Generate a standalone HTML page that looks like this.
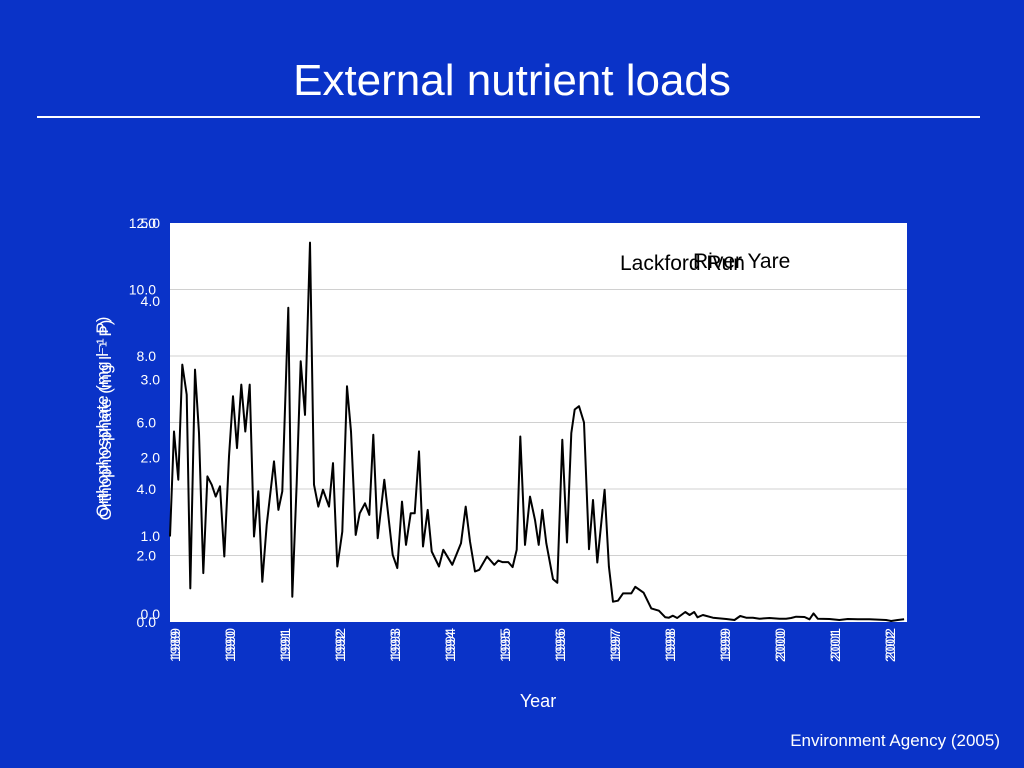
<!DOCTYPE html>
<html><head><meta charset="utf-8"><style>
body{margin:0;background:#0a33c8;}
svg{display:block;font-family:"Liberation Sans",sans-serif;}
</style></head><body>
<svg id="chart" width="1024" height="768" viewBox="0 0 1024 768">
<rect x="0" y="0" width="1024" height="768" fill="#0a33c8"/>
<text x="512" y="95" font-size="44" fill="#fff" text-anchor="middle">External nutrient loads</text>
<line x1="37" y1="117" x2="980" y2="117" stroke="#fff" stroke-width="2"/>
<rect x="170" y="223" width="737" height="399" fill="#fff"/>
<g id="grid"></g>
<g id="yticks"></g>
<g id="xticks"></g>
<path id="line" fill="none" stroke="#000" stroke-width="2" stroke-linejoin="round"/>
<text x="620" y="270" font-size="21" fill="#000">Lackford Run</text>
<text x="693" y="268" font-size="21" fill="#000">River Yare</text>
<text transform="translate(111,420) rotate(-90)" font-size="17" fill="#fff" text-anchor="middle">Orthophosphate (mg l⁻¹ P)</text>
<text transform="translate(108,417) rotate(-90)" font-size="17" fill="#fff" text-anchor="middle">Orthophosphate (mg l⁻¹ P)</text>
<text x="538" y="707" font-size="18" fill="#fff" text-anchor="middle">Year</text>
<text x="1000" y="746" font-size="17" fill="#fff" text-anchor="end">Environment Agency (2005)</text>
</svg>
<script>
const months=[0,0.87,1.82,2.69,3.64,4.44,5.45,6.33,7.27,8.15,9.09,9.96,10.91,11.85,12.87,13.75,14.62,15.56,16.43,17.38,18.33,19.27,20.14,21.09,22.69,23.64,24.51,25.82,26.69,27.64,28.51,29.45,30.55,31.42,32.36,33.38,34.69,35.56,36.51,37.6,38.62,39.49,40.51,41.38,42.55,43.49,44.36,45.31,46.76,48.58,49.6,50.62,51.49,52.51,53.38,54.33,55.2,56.22,57.09,58.69,59.64,61.6,63.49,64.51,65.45,66.55,67.49,69.16,70.76,71.64,72.51,73.82,74.76,75.64,76.44,77.45,78.55,79.64,80.44,81.24,82.11,83.57,84.51,85.6,86.62,87.56,88.29,89.23,90.32,91.41,92.29,93.23,94.83,95.77,96.65,97.74,98.83,100.64,101.52,103.33,105.0,106.67,108.06,108.85,109.73,110.67,112.42,113.36,114.38,115.1,116.27,118.45,121.35,123.17,124.41,125.71,127.17,128.62,130.8,132.98,134.43,135.52,136.61,138.43,139.52,140.39,141.34,143.88,146.06,147.88,150.06,152.6,156.24,157.33,158.77,160.17];
const values=[2.57,5.73,4.28,7.74,6.84,1.01,7.59,5.68,1.47,4.38,4.13,3.77,4.08,1.97,4.98,6.79,5.23,7.14,5.73,7.14,2.57,3.93,1.21,2.92,4.83,3.37,3.93,9.45,0.76,4.18,7.84,6.23,11.41,4.13,3.47,3.98,3.47,4.78,1.67,2.72,7.09,5.73,2.62,3.27,3.57,3.22,5.63,2.52,4.28,2.02,1.62,3.62,2.32,3.27,3.27,5.13,2.27,3.37,2.12,1.67,2.17,1.72,2.37,3.47,2.42,1.52,1.57,1.97,1.72,1.85,1.80,1.80,1.65,2.17,5.58,2.32,3.77,3.07,2.32,3.37,2.37,1.29,1.18,5.48,2.39,5.68,6.39,6.49,6.0,2.19,3.67,1.79,3.98,1.67,0.61,0.64,0.86,0.86,1.06,0.88,0.41,0.34,0.14,0.13,0.19,0.12,0.30,0.21,0.30,0.14,0.21,0.13,0.09,0.06,0.18,0.13,0.13,0.10,0.12,0.10,0.10,0.12,0.16,0.15,0.08,0.26,0.10,0.09,0.06,0.09,0.08,0.08,0.06,0.03,0.06,0.08];
const leftTicks=[0,2,4,6,8,10,12];
const rightTicks=[0,1,2,3,4,5];
const yearLabels=["1989","1990","1991","1992","1993","1994","1995","1996","1997","1998","1999","2000","2001","2002"];
const NS="http://www.w3.org/2000/svg";
const x=m=>170+m*(737/160.8);
const y=v=>622-v*(399/12);
const y2=v=>614-v*(391/5);
const grid=document.getElementById('grid'),yt=document.getElementById('yticks'),xt=document.getElementById('xticks');
leftTicks.forEach(t=>{
 if(t>0&&t<12){const l=document.createElementNS(NS,'line');
 
 
 l.setAttribute('x1',170);l.setAttribute('x2',907);l.setAttribute('y1',y(t));l.setAttribute('y2',y(t));
 l.setAttribute('stroke','#d0d0d0');l.setAttribute('stroke-width','1');grid.appendChild(l);}
 const tx=document.createElementNS(NS,'text');
 
 
 tx.setAttribute('x',156);tx.setAttribute('y',y(t)+5);tx.setAttribute('text-anchor','end');
 tx.setAttribute('font-size','14');tx.setAttribute('fill','#fff');tx.textContent=t.toFixed(1);yt.appendChild(tx);
});
rightTicks.forEach(t=>{
 const tx=document.createElementNS(NS,'text');
 
 
 tx.setAttribute('x',160);tx.setAttribute('y',y2(t)+5);tx.setAttribute('text-anchor','end');
 tx.setAttribute('font-size','14');tx.setAttribute('fill','#fff');tx.textContent=t.toFixed(1);yt.appendChild(tx);
});
yearLabels.forEach((lab,i)=>{
 [0,3].forEach(off=>{
 const tx=document.createElementNS(NS,'text');
 
 
 const px=x(i*12)+10;
 tx.setAttribute('transform','translate('+px+','+(628+off)+') rotate(-90)');
 tx.setAttribute('text-anchor','end');tx.setAttribute('font-size','14');tx.setAttribute('fill','#fff');
 tx.textContent=lab;xt.appendChild(tx);});
});
let d='';
months.forEach((m,i)=>{d+=(i?'L':'M')+x(m).toFixed(1)+','+y(values[i]).toFixed(1);});
document.getElementById('line').setAttribute('d',d);
</script>
</body></html>
